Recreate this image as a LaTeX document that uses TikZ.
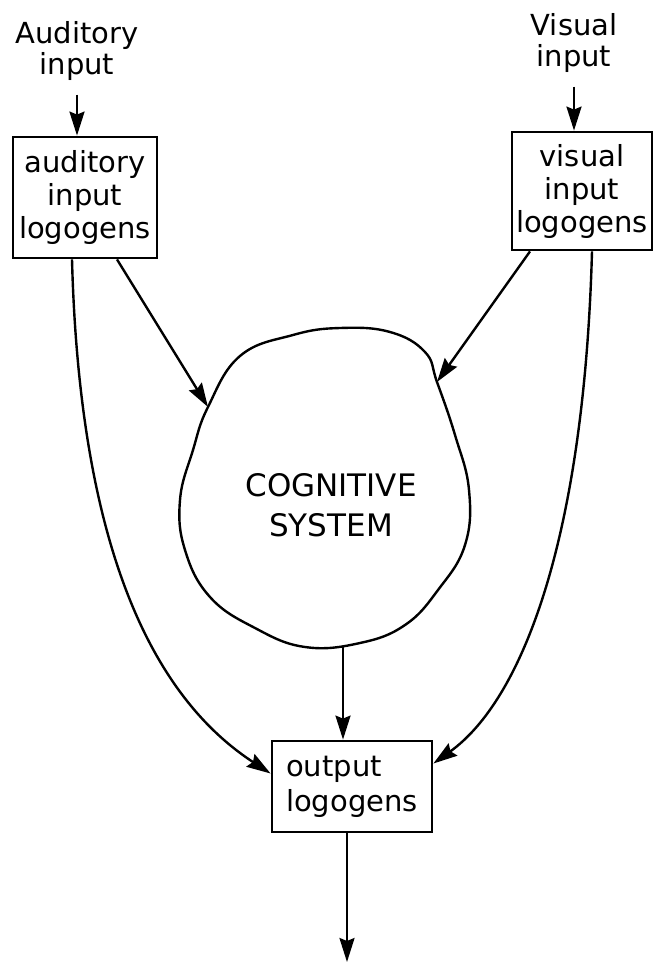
\documentclass[tikz,border=0pt]{standalone}
\usepackage{fontspec}
\setmainfont{DejaVu Sans}
\usetikzlibrary{arrows.meta,positioning}

\begin{document}
\begin{tikzpicture}[x=1pt, y=-1pt, line width=2.4pt,
		>={Stealth[length=24pt,width=15pt,inset=3pt]}]
		\useasboundingbox (0,0) rectangle (653,964);
		\begin{scope}[every node/.style={align=center, inner sep=0pt, font=\fontsize{29}{31}\selectfont}]
			\node (ai) at (77,51) {Auditory\\input};
			\node (vi) at (574,43) {Visual\\input};
		\end{scope}
		\begin{scope}[every node/.style={draw, line width=2.8pt, inner sep=0pt, font=\fontsize{29}{33}\selectfont}]
			\node[align=center, minimum width=144pt, minimum height=121pt] (al) at (85,197.5) {auditory\\input\\logogens};
			\node[align=center, minimum width=140pt, minimum height=118pt] (vl) at (582,191) {visual\\input\\logogens};
			\node[align=left, minimum width=160pt, minimum height=91pt, font=\fontsize{29}{35}\selectfont] (ol) at (352,786.5) {output\\logogens};
		\end{scope}
		\draw plot[smooth cycle, tension=0.7] coordinates {
			(208,407) (240,356) (293,335) (340,328) (390,332) (425,352) (437,382)
			(455,435) (469,490) (465,545) (438,590) (405,625) (360,643) (305,647)
			(255,628) (210,597) (185,550) (180,500) (193,450)};
		\node[align=center, inner sep=0pt, font=\fontsize{31}{40}\selectfont] (cs) at (331,505) {COGNITIVE\\SYSTEM};
		\coordinate (bl) at (208,407);
		\coordinate (br) at (437,382);
		\coordinate (bb) at (343,647);
		\coordinate (exit) at (347,962);
		\begin{scope}[every path/.style={line width=2.4pt, ->}]
			\draw ([yshift=-13pt]ai.south) -- (ai.south |- al.north);
			\draw ([yshift=-13pt]vi.south) -- (vi.south |- vl.north);
			\draw ([xshift=32pt]al.south) -- (bl);
			\draw ([xshift=-52pt]vl.south) -- (br);
			\draw (bb) -- (bb |- ol.north);
			\draw ([xshift=-5pt]ol.south) -- (exit);
			\draw ([xshift=-13pt]al.south) .. controls +(8,301) and +(-112,-73) .. ([yshift=13pt]ol.west);
			\draw ([xshift=10pt]vl.south) .. controls +(-8,290) and +(88,-63) .. ([yshift=23pt]ol.east);
		\end{scope}
	\end{tikzpicture}
\end{document}
